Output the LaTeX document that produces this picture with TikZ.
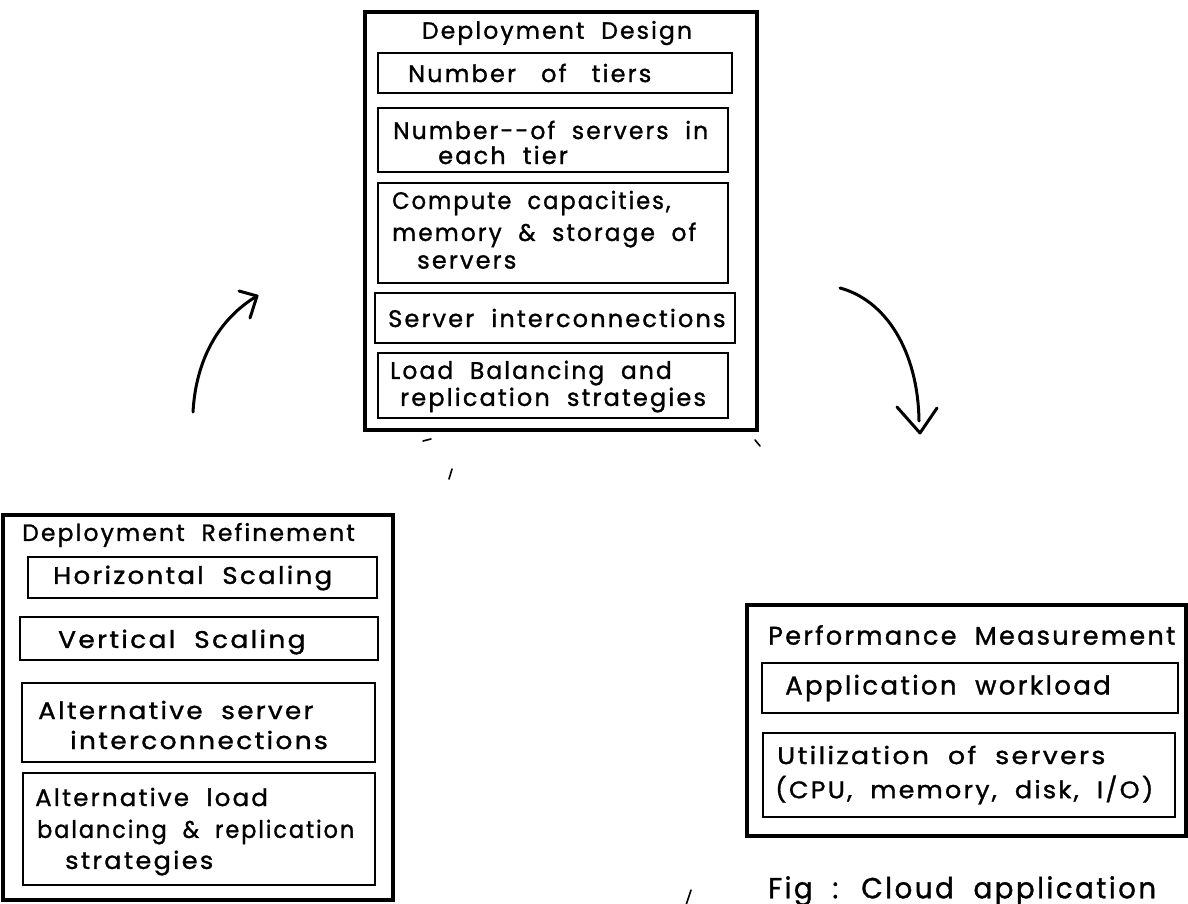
\documentclass[tikz,border=0pt]{standalone}
\usepackage{graphicx}
\usepackage{fontspec}
\setmainfont{Poppins}[LetterSpace=9, WordSpace=2.0, FakeBold=1.2]
% horizontally stretched or squeezed line of text
\newcommand\wide[2]{\scalebox{#1}[1]{#2}}
\begin{document}
\begin{tikzpicture}[x=1pt, y=-1pt,
  outerbox/.style={draw, line width=3.2pt, inner sep=0pt, outer sep=0pt, anchor=north west},
  innerbox/.style={draw, line width=2.8pt, inner sep=0pt, outer sep=0pt, anchor=north west},
  txt/.style={anchor=west, inner sep=0pt, font=\fontsize{24}{28}\selectfont},
  ttl/.style={anchor=west, inner sep=0pt, font=\fontsize{23.5}{27}\selectfont},
  stroke/.style={line width=3pt, line cap=round, line join=round},
  speck/.style={line width=1.6pt, line cap=round}]
\useasboundingbox (0,0) rectangle (1188,903);
\fill[white] (0,0) rectangle (1188,903);
\clip (0,0) rectangle (1188,903);

% ---- Deployment Design ----
\node[outerbox, minimum width=392, minimum height=418] (dd) at (365,12) {};
\node[ttl, anchor=center] (ddT) at (557,33) {Deployment Design};
\node[innerbox, minimum width=354, minimum height=40]  (t1) at (378,53)  {};
\node[innerbox, minimum width=350, minimum height=64]  (t2) at (378,108) {};
\node[innerbox, minimum width=350, minimum height=100] (t3) at (378,183) {};
\node[innerbox, minimum width=360, minimum height=50]  (t4) at (375,293) {};
\node[innerbox, minimum width=350, minimum height=65]  (t5) at (378,353) {};
\node[txt] (t1a) at (408,73)  {Number\hspace{8pt} of\hspace{8pt} tiers};
\node[txt] (t2a) at (393,130) {\wide{0.975}{Number-{}-of servers in}};
\node[txt] (t2b) at (438,155) {each tier};
\node[txt] (t3a) at (392,203) {\wide{0.94}{Compute capacities,}};
\node[txt] (t3b) at (392,235) {\wide{0.97}{memory \& storage of}};
\node[txt] (t3c) at (417,262) {servers};
\node[txt] (t4a) at (388,318) {Server interconnections};
\node[txt] (t5a) at (390,373) {\wide{0.975}{Load Balancing and}};
\node[txt] (t5b) at (400,400) {replication strategies};

% ---- Deployment Refinement ----
\node[outerbox, minimum width=390, minimum height=385] (dr) at (3,515) {};
\node[ttl] (drT) at (22,535) {Deployment Refinement};
\node[innerbox, minimum width=349, minimum height=41]  (h1) at (28,557) {};
\node[innerbox, minimum width=358, minimum height=43]  (h2) at (20,617) {};
\node[innerbox, minimum width=353, minimum height=79]  (h3) at (22,683) {};
\node[innerbox, minimum width=352, minimum height=112] (h4) at (23,773) {};
\node[txt] (h1a) at (53,578) {\wide{1.085}{Horizontal Scaling}};
\node[txt] (h2a) at (58,642) {\wide{1.10}{Vertical Scaling}};
\node[txt] (h3a) at (38,710) {\wide{1.09}{Alternative server}};
\node[txt] (h3b) at (70,740) {\wide{1.10}{interconnections}};
\node[txt] (h4a) at (35,797) {\wide{1.02}{Alternative load}};
\node[txt] (h4b) at (37,832) {\wide{0.93}{balancing \& replication}};
\node[txt] (h4c) at (65,863) {\wide{1.065}{strategies}};

% ---- Performance Measurement ----
\node[outerbox, minimum width=439, minimum height=231] (pm) at (747,605) {};
\node[ttl, font=\fontsize{25.5}{29}\selectfont] (pmT) at (768,635) {Performance Measurement};
\node[innerbox, minimum width=416, minimum height=50] (p1) at (762,663) {};
\node[innerbox, minimum width=412, minimum height=84] (p2) at (763,733) {};
\node[txt, font=\fontsize{26}{30}\selectfont] (p1a) at (785,688) {Application workload};
\node[txt] (p2a) at (777,755) {\wide{1.11}{Utilization of servers}};
\node[txt] (p2b) at (775,790) {\wide{1.056}{(CPU, memory, disk, I/O)}};

% ---- caption ----
\node[anchor=north west, inner sep=0pt, font=\fontsize{29}{33}\selectfont] (cap) at (768,876) {\wide{0.955}{Fig : Cloud application}};

% ---- cycle arrows ----
\coordinate (a1s) at (193,412);
\coordinate (a1t) at (257,296);
\draw[stroke] (a1s) .. controls (196,358) and (220,318) .. (a1t);
\draw[stroke] (239,291) -- (a1t) -- (250,318);

\coordinate (a2s) at (840,288);
\coordinate (a2t) at (920,433);
\draw[stroke] (a2s) .. controls (885,300) and (918,350) .. (919,421);
\draw[stroke] (897,407) -- (a2t) -- (937,408);

% ---- loose pen marks ----
\draw[speck] (449,479) -- (452,469);
\draw[speck] (686,905) -- (691,890);
\draw[speck] (423,441) -- (431,439);
\draw[speck] (755,440) -- (760,446);
\end{tikzpicture}
\end{document}
